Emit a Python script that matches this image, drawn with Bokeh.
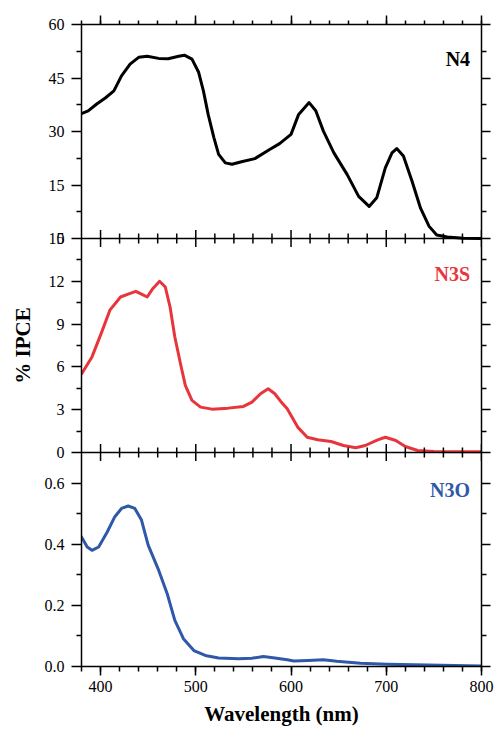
import numpy as np
from bokeh.plotting import figure
from bokeh.models import (Range1d, LinearAxis, FixedTicker, SingleIntervalTicker,
                          CustomJSTickFormatter, Span, Label)
from bokeh.embed import file_html
from bokeh.resources import INLINE

# ---------------- data ----------------
wavelength_ticks = [400, 500, 600, 700, 800]
wavelength_minor = [420, 440, 460, 480, 520, 540, 560, 580, 620, 640, 660, 680,
                    720, 740, 760, 780]

n4_nm = [380, 387, 396, 405, 414, 422, 431, 440, 449, 461, 471, 482, 488, 496, 503,
         508, 513, 519, 524, 531, 538, 548, 562, 578, 588, 600, 608, 619, 626, 634,
         645, 659, 671, 682, 690, 699, 706, 711, 718, 727, 736, 745, 753, 764, 781, 800]
n4_val = [35.0, 35.8, 37.7, 39.4, 41.4, 45.6, 48.9, 50.8, 51.1, 50.5, 50.4, 51.1, 51.4,
          50.3, 46.6, 41.4, 34.8, 28.3, 23.6, 21.2, 20.8, 21.5, 22.4, 25.0, 26.6, 29.2,
          34.8, 38.1, 35.8, 30.1, 24.0, 17.9, 11.8, 9.0, 11.4, 19.8, 24.0, 25.2, 23.1,
          16.1, 8.5, 3.4, 1.0, 0.4, 0.1, 0.0]

n3s_nm = [380, 391, 401, 410, 421, 429, 437, 443, 449, 455, 462, 468, 473, 478, 484,
          489, 496, 505, 517, 534, 550, 559, 568, 576, 583, 589, 596, 607, 617, 628,
          642, 655, 668, 678, 691, 699, 710, 720, 733, 750, 800]
n3s_val = [5.5, 6.7, 8.4, 10.0, 10.9, 11.1, 11.3, 11.1, 10.9, 11.5, 12.0, 11.6, 10.2,
           8.1, 6.2, 4.7, 3.65, 3.18, 3.04, 3.11, 3.23, 3.53, 4.12, 4.47, 4.12, 3.6,
           3.07, 1.78, 1.07, 0.89, 0.77, 0.49, 0.33, 0.49, 0.89, 1.07, 0.84, 0.42,
           0.14, 0.07, 0.05]

n3o_nm = [380, 386, 391, 398, 407, 415, 422, 429, 436, 443, 450, 461, 470, 478, 487,
          498, 510, 524, 545, 559, 571, 583, 596, 603, 618, 634, 648, 673, 701, 729, 800]
n3o_val = [0.424, 0.391, 0.380, 0.391, 0.440, 0.490, 0.517, 0.525, 0.517, 0.479, 0.397,
           0.315, 0.238, 0.151, 0.091, 0.052, 0.036, 0.028, 0.025, 0.027, 0.033, 0.028,
           0.022, 0.018, 0.020, 0.022, 0.017, 0.011, 0.0075, 0.0055, 0.002]

n4_yticks = [0, 15, 30, 45, 60]
n4_ylabels = ["0", "15", "30", "45", "60"]
n4_yminor = [7.5, 22.5, 37.5, 52.5]
n3s_yticks = [0, 3, 6, 9, 12, 15]
n3s_ylabels = ["0", "3", "6", "9", "12", "15"]
n3s_yminor = [1.5, 4.5, 7.5, 10.5, 13.5]
n3o_yticks = [0.0, 0.2, 0.4, 0.6]
n3o_ylabels = ["0.0", "0.2", "0.4", "0.6"]
n3o_yminor = [0.1, 0.3, 0.5]

SERIF = "Liberation Serif"

# bottom to top
panels = [
    dict(name="n3o", top=0.7, nm=n3o_nm, val=n3o_val, color="#2f58a8", text="N3O",
         ticks=n3o_yticks, labels=n3o_ylabels, minor=n3o_yminor, tx=788, ty=0.577),
    dict(name="n3s", top=15, nm=n3s_nm, val=n3s_val, color="#e8353b", text="N3S",
         ticks=n3s_yticks, labels=n3s_ylabels, minor=n3s_yminor, tx=788, ty=12.5),
    dict(name="n4", top=60, nm=n4_nm, val=n4_val, color="#000000", text="N4",
         ticks=n4_yticks, labels=n4_ylabels, minor=n4_yminor, tx=788, ty=50.4),
]
N = len(panels)

p = figure(width=497, height=729, x_range=Range1d(380, 800), y_range=Range1d(0, N),
           x_axis_location=None, y_axis_location=None,
           output_backend="svg", toolbar_location=None,
           min_border_left=81, min_border_right=16, min_border_top=24, min_border_bottom=63)
p.grid.visible = False
p.outline_line_color = None
p.background_fill_color = "white"
p.border_fill_color = "white"

p.extra_y_ranges = {pn["name"]: Range1d(-k * pn["top"], (N - k) * pn["top"])
                    for k, pn in enumerate(panels)}

for k, pn in enumerate(panels):
    p.line(pn["nm"], pn["val"], y_range_name=pn["name"], line_color=pn["color"],
           line_width=3, line_join="round", line_cap="round")
    p.add_layout(Label(x=pn["tx"], y=pn["ty"], y_range_name=pn["name"], text=pn["text"],
                       text_align="right", text_baseline="middle", text_font=SERIF,
                       text_font_style="bold", text_font_size="20px",
                       text_color=pn["color"]))
    if k > 0:
        p.add_layout(Span(location=0, dimension="width", y_range_name=pn["name"],
                          line_color="black", line_width=1.5))
        p.scatter(wavelength_ticks, [0] * len(wavelength_ticks), y_range_name=pn["name"],
                  marker="dash", angle=np.pi / 2, size=17, line_color="black",
                  line_width=1.5)
        p.scatter(wavelength_minor, [0] * len(wavelength_minor), y_range_name=pn["name"],
                  marker="dash", angle=np.pi / 2, size=10, line_color="black",
                  line_width=1.5)

# y tick positions in stacked panel units
ypos, ylab, yminor = [], [], []
for k, pn in enumerate(panels):
    for v, t in zip(pn["ticks"], pn["labels"]):
        ypos.append(k + v / pn["top"])
        ylab.append(t)
    for v in pn["minor"]:
        yminor.append(k + v / pn["top"])
order = sorted(range(len(ypos)), key=lambda i: ypos[i])
ypos = [ypos[i] for i in order]
ylab = [ylab[i] for i in order]
yticker = FixedTicker(ticks=ypos, minor_ticks=sorted(yminor))

yfmt = CustomJSTickFormatter(args=dict(pos=ypos, labels=ylab), code="""
let k = 0;
for (let i = 0; i < index; i++) { if (Math.abs(ticks[i] - tick) < 1e-9) k++; }
let m = 0;
for (let j = 0; j < pos.length; j++) {
  if (Math.abs(pos[j] - tick) < 1e-9) { if (m === k) return labels[j]; m++; }
}
return "";
""")
empty = CustomJSTickFormatter(code="return '';")


def style(ax, out, mout):
    ax.axis_line_width = 1.5
    ax.axis_line_color = "black"
    ax.major_tick_line_width = 1.5
    ax.minor_tick_line_width = 1.5
    ax.major_tick_line_color = "black"
    ax.minor_tick_line_color = "black"
    ax.major_tick_in = 0
    ax.minor_tick_in = 0
    ax.major_tick_out = out
    ax.minor_tick_out = mout
    ax.major_label_text_font = SERIF
    ax.major_label_text_font_size = "16px"
    ax.major_label_text_color = "black"
    ax.axis_label_text_font = SERIF
    ax.axis_label_text_font_style = "bold"
    ax.axis_label_text_font_size = "21px"
    ax.axis_label_text_color = "black"


left = LinearAxis(ticker=yticker, formatter=yfmt, axis_label="% IPCE")
style(left, 10, 5)
left.major_label_standoff = 7
left.axis_label_standoff = 7
p.add_layout(left, "left")

right = LinearAxis(ticker=yticker, formatter=empty)
style(right, 9, 5)
right.major_label_standoff = 0
p.add_layout(right, "right")

xt = SingleIntervalTicker(interval=100, num_minor_ticks=5)
bottom = LinearAxis(ticker=xt, axis_label="Wavelength (nm)")
style(bottom, 9, 5)
bottom.major_label_standoff = 5
bottom.axis_label_standoff = 7
p.add_layout(bottom, "below")

top = LinearAxis(ticker=xt, formatter=empty)
style(top, 9, 4)
top.major_label_standoff = 0
p.add_layout(top, "above")

open("out.html", "w").write(file_html(p, INLINE))
